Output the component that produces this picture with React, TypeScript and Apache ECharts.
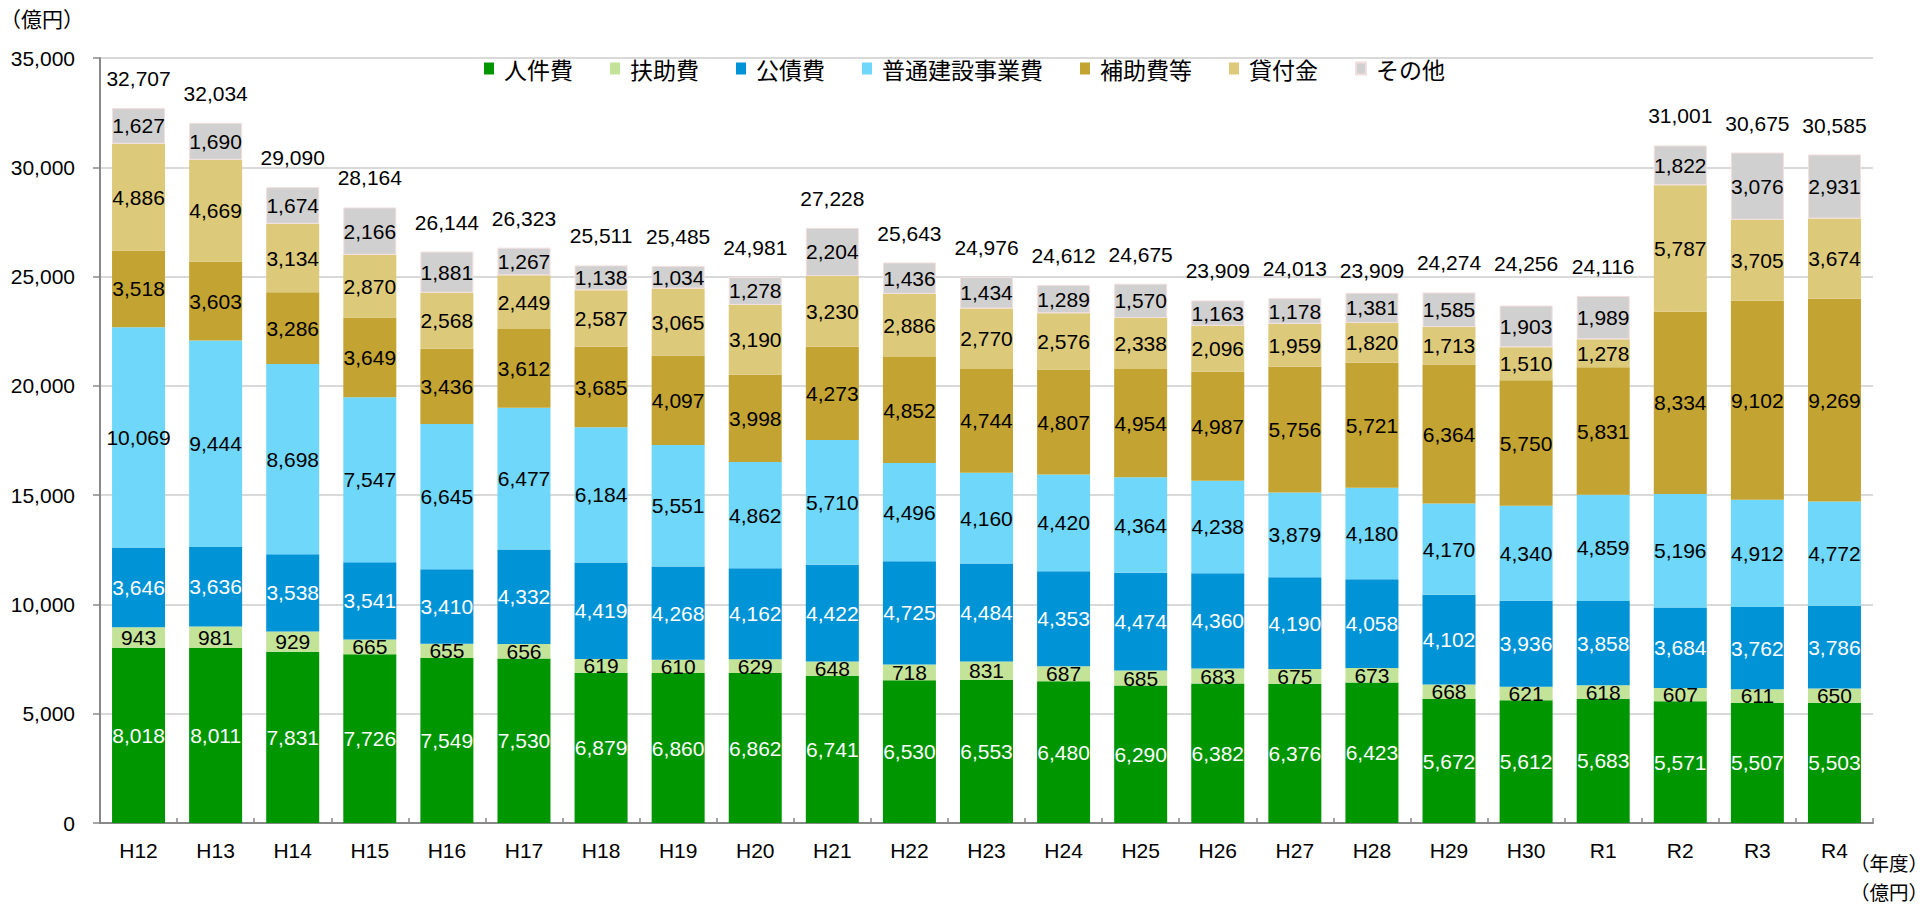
import React, { useEffect, useRef } from "react";
import * as echarts from "echarts";

const categories = [
  "H12", "H13", "H14", "H15", "H16", "H17", "H18", "H19", "H20", "H21", "H22", "H23",
  "H24", "H25", "H26", "H27", "H28", "H29", "H30", "R1", "R2", "R3", "R4",
];

const personnel = [8018, 8011, 7831, 7726, 7549, 7530, 6879, 6860, 6862, 6741, 6530, 6553, 6480, 6290, 6382, 6376, 6423, 5672, 5612, 5683, 5571, 5507, 5503];
const assistance = [943, 981, 929, 665, 655, 656, 619, 610, 629, 648, 718, 831, 687, 685, 683, 675, 673, 668, 621, 618, 607, 611, 650];
const debtService = [3646, 3636, 3538, 3541, 3410, 4332, 4419, 4268, 4162, 4422, 4725, 4484, 4353, 4474, 4360, 4190, 4058, 4102, 3936, 3858, 3684, 3762, 3786];
const construction = [10069, 9444, 8698, 7547, 6645, 6477, 6184, 5551, 4862, 5710, 4496, 4160, 4420, 4364, 4238, 3879, 4180, 4170, 4340, 4859, 5196, 4912, 4772];
const subsidies = [3518, 3603, 3286, 3649, 3436, 3612, 3685, 4097, 3998, 4273, 4852, 4744, 4807, 4954, 4987, 5756, 5721, 6364, 5750, 5831, 8334, 9102, 9269];
const loans = [4886, 4669, 3134, 2870, 2568, 2449, 2587, 3065, 3190, 3230, 2886, 2770, 2576, 2338, 2096, 1959, 1820, 1713, 1510, 1278, 5787, 3705, 3674];
const others = [1627, 1690, 1674, 2166, 1881, 1267, 1138, 1034, 1278, 2204, 1436, 1434, 1289, 1570, 1163, 1178, 1381, 1585, 1903, 1989, 1822, 3076, 2931];
const totals = [32707, 32034, 29090, 28164, 26144, 26323, 25511, 25485, 24981, 27228, 25643, 24976, 24612, 24675, 23909, 24013, 23909, 24274, 24256, 24116, 31001, 30675, 30585];

const yTicks = { min: 0, max: 35000, interval: 5000 };

const seriesDefs = [
  { name: "人件費", data: personnel, color: "#009600", labelColor: "#ffffff" },
  { name: "扶助費", data: assistance, color: "#c3e399", labelColor: "#000000" },
  { name: "公債費", data: debtService, color: "#0093d6", labelColor: "#ffffff" },
  { name: "普通建設事業費", data: construction, color: "#6fd8fa", labelColor: "#000000" },
  { name: "補助費等", data: subsidies, color: "#c3a331", labelColor: "#000000" },
  { name: "貸付金", data: loans, color: "#ddc97a", labelColor: "#000000" },
  { name: "その他", data: others, color: "#d0d0d0", labelColor: "#000000" },
];

const NUM_FONT = "'Liberation Sans', Arial, 'Noto Sans CJK JP', sans-serif";
const CJK_FONT = "'Noto Sans CJK JP', 'Liberation Sans', sans-serif";
const fmt = (v: number) => v.toLocaleString("en-US");

export default function App() {
  const ref = useRef<HTMLDivElement>(null);

  useEffect(() => {
    if (!ref.current) return;
    const chart = echarts.init(ref.current, null, { renderer: "svg" });
    const BAR_W = 53;

    const stacked = seriesDefs.map((s) => ({
      name: s.name,
      type: "bar",
      stack: "total",
      barWidth: BAR_W,
      data: s.data,
      itemStyle: {
        color: s.color,
        borderColor: s.name === "その他" ? "#f3dede" : s.color,
        borderWidth: s.name === "その他" ? 1 : 0,
      },
      label: {
        show: true,
        position: "inside",
        color: s.labelColor,
        fontSize: 21,
        fontFamily: NUM_FONT,
        formatter: (p: any) => fmt(p.value),
      },
      emphasis: { disabled: true },
    }));

    const totalSeries = {
      name: "合計",
      type: "bar",
      barWidth: BAR_W,
      barGap: "-100%",
      data: totals,
      z: 1,
      itemStyle: { color: "rgba(0,0,0,0)" },
      label: {
        show: true,
        position: "top",
        distance: 19,
        color: "#000",
        fontSize: 21,
        fontFamily: NUM_FONT,
        formatter: (p: any) => fmt(p.value),
      },
      emphasis: { disabled: true },
      silent: true,
    };

    chart.setOption({
      animation: false,
      backgroundColor: "#ffffff",
      textStyle: { fontFamily: NUM_FONT },
      legend: {
        data: seriesDefs.map((s) => s.name),
        left: "center",
        top: 52,
        itemWidth: 10,
        itemHeight: 12,
        itemGap: 37,
        icon: "rect",
        textStyle: {
          fontSize: 23,
          fontFamily: CJK_FONT,
          color: "#000",
          padding: [0, 0, 0, 5],
        },
      },
      grid: { left: 100, right: 56, top: 58, bottom: 83, containLabel: false },
      xAxis: {
        type: "category",
        data: categories,
        axisLine: { lineStyle: { color: "#898989", width: 2 } },
        axisTick: { show: true, inside: true, length: 5, alignWithLabel: false, lineStyle: { color: "#898989", width: 1.5 } },
        axisLabel: { fontSize: 21, color: "#000", margin: 17, fontFamily: NUM_FONT },
      },
      yAxis: {
        type: "value",
        min: yTicks.min,
        max: yTicks.max,
        interval: yTicks.interval,
        axisLine: { show: true, lineStyle: { color: "#898989", width: 2 } },
        axisTick: { show: true, inside: false, length: 7, lineStyle: { color: "#898989", width: 1.5 } },
        splitLine: { show: true, lineStyle: { color: "#d9d9d9", width: 2 } },
        axisLabel: { fontSize: 21, color: "#000", margin: 25, fontFamily: NUM_FONT, formatter: (v: number) => fmt(v) },
      },
      graphic: [
        {
          type: "text",
          x: 0,
          y: 18,
          style: { text: "（億円）", font: `21px ${CJK_FONT}`, fill: "#000", align: "left", verticalAlign: "middle" },
        },
        {
          type: "text",
          x: 1928,
          y: 862,
          style: { text: "（年度）", font: `19.5px ${CJK_FONT}`, fill: "#000", align: "right", verticalAlign: "middle" },
        },
        {
          type: "text",
          x: 1928,
          y: 891,
          style: { text: "（億円）", font: `19.5px ${CJK_FONT}`, fill: "#000", align: "right", verticalAlign: "middle" },
        },
      ],
      series: [...stacked, totalSeries],
    });

    return () => chart.dispose();
  }, []);

  return (
    <div
      ref={ref}
      style={{ position: "fixed", left: 0, top: 0, width: 1929, height: 906, background: "#fff" }}
    />
  );
}
